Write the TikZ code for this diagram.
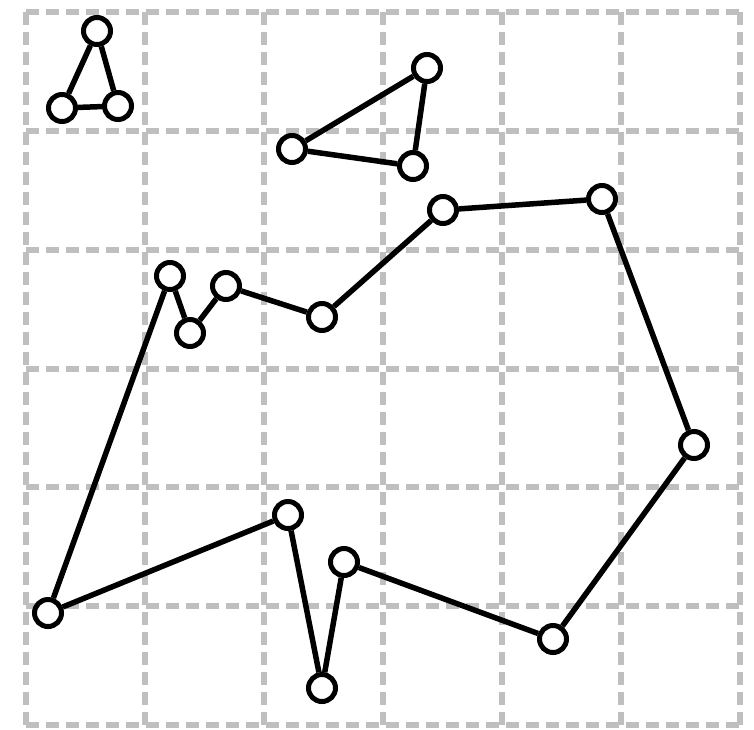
\documentclass[tikz,border=0pt]{standalone}
\begin{document}
\begin{tikzpicture}[x=1pt,y=-1pt,
  gridline/.style={draw=black!25, line width=6pt, dash pattern=on 13pt off 7pt},
  vert/.style={circle, draw=black, fill=white, line width=5pt, minimum size=27pt, inner sep=0pt},
  edge/.style={draw=black, line width=5.5pt}]
\useasboundingbox (0,0) rectangle (754,729);
\fill[white] (0,0) rectangle (754,729);
% grid
\foreach \x in {26,145,264,383,502,621,740} {
  \draw[gridline] (\x,12) -- (\x,725);
}
\foreach \y in {12,131,250,369,487,606,725} {
  \draw[gridline] (26,\y) -- (740,\y);
}
% nodes
\node[vert] (a1) at (97,31) {};
\node[vert] (a2) at (62,108) {};
\node[vert] (a3) at (118,106) {};
\node[vert] (b1) at (427,68) {};
\node[vert] (b2) at (292,149) {};
\node[vert] (b3) at (413,166) {};
\node[vert] (c1) at (170,276) {};
\node[vert] (c2) at (190,333) {};
\node[vert] (c3) at (226,286) {};
\node[vert] (c4) at (322,317) {};
\node[vert] (c5) at (443,210) {};
\node[vert] (c6) at (602,199) {};
\node[vert] (c7) at (694,445) {};
\node[vert] (c8) at (553,639) {};
\node[vert] (c9) at (344,562) {};
\node[vert] (c10) at (322,688) {};
\node[vert] (c11) at (288,515) {};
\node[vert] (c12) at (48,613) {};
% edges
\draw[edge] (a1) -- (a2) -- (a3) -- (a1);
\draw[edge] (b1) -- (b2) -- (b3) -- (b1);
\draw[edge] (c1) -- (c2) -- (c3) -- (c4) -- (c5) -- (c6) -- (c7) -- (c8) -- (c9) -- (c10) -- (c11) -- (c12) -- (c1);
\end{tikzpicture}
\end{document}
